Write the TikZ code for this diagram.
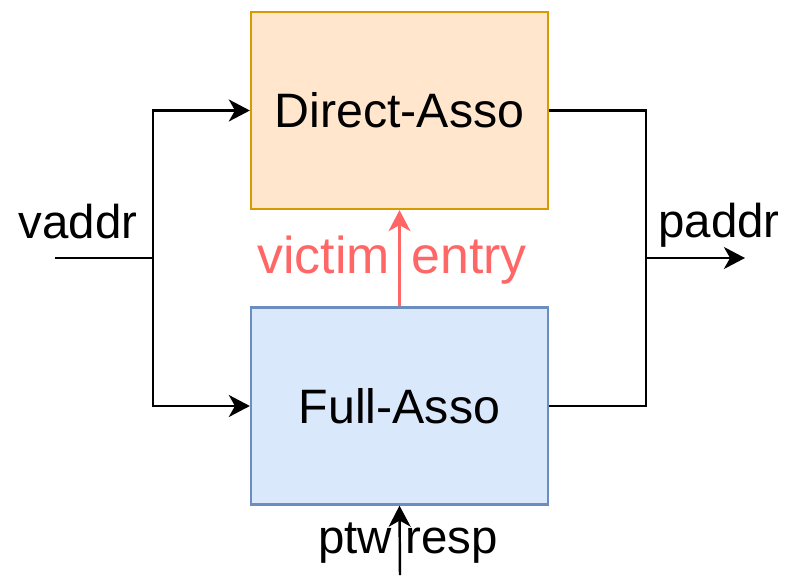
\documentclass[tikz,border=0pt]{standalone}
\usepackage{fontspec}
\setmainfont{Liberation Sans}
\usetikzlibrary{arrows.meta,positioning}

\definecolor{dirfill}{HTML}{FFE6CC}
\definecolor{dirline}{HTML}{D79B00}
\definecolor{fullfill}{HTML}{DAE8FC}
\definecolor{fullline}{HTML}{6C8EBF}
\definecolor{victimred}{HTML}{FF6666}

\tikzset{
	unit/.style={rectangle, line width=1.3pt, minimum width=5.94cm, minimum height=3.94cm,
		inner sep=0pt, font=\fontsize{27.5}{32}\selectfont},
	wire/.style={line width=1.4pt, -{Stealth[length=12pt,width=12.5pt,inset=3.5pt]}},
	plain/.style={line width=1.4pt},
	lbl/.style={anchor=base, inner sep=0pt, font=\fontsize{27}{32}\selectfont}
}

\begin{document}
\begin{tikzpicture}[x=0.02cm,y=-0.02cm]
	\useasboundingbox (0,0) rectangle (788,575);

	\node[unit, draw=dirline, fill=dirfill]		(direct)	at (399.5,110.5)	{Direct-Asso};
	\node[unit, draw=fullline, fill=fullfill]	(full)		at (399.5,406)		{Full-Asso};

	\coordinate	(vin)	at (55,258);
	\coordinate	(split)	at (153,258);
	\coordinate	(join)	at (646,258);
	\coordinate	(pout)	at (745,258);
	\coordinate	(ptwin)	at (400,575);

	\node[lbl]						(vaddrlbl)	at (78,238)		{vaddr};
	\node[lbl]						(paddrlbl)	at (719,237)	{paddr};
	\node[lbl, text=victimred, font=\fontsize{29.5}{35}\selectfont]	(victimlbl)	at (392,273)	{victim\hspace{0.42em}entry};
	\node[lbl]						(ptwlbl)	at (408,553)	{ptw resp};

	\draw[plain]	(vin) -- (split);
	\draw[wire]		(split) |- (direct.west);
	\draw[wire]		(split) |- (full.west);
	\draw[plain]	(direct.east) -| (join);
	\draw[plain]	(full.east) -| (join);
	\draw[wire]		(join) -- (pout);
	\draw[wire, draw=victimred, fill=victimred]	(full.north) -- (direct.south);
	\draw[wire]		(ptwin) -- (full.south);
\end{tikzpicture}
\end{document}
